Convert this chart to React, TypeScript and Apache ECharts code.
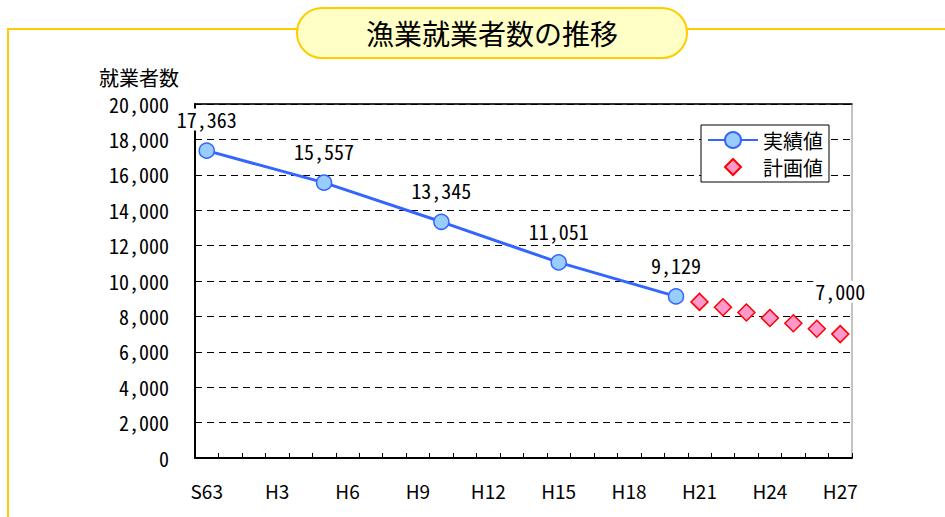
import React, { useEffect, useRef } from "react";
import * as echarts from "echarts";

const categories = [
  "S63", "H1", "H2", "H3", "H4", "H5", "H6", "H7", "H8", "H9", "H10", "H11", "H12", "H13",
  "H14", "H15", "H16", "H17", "H18", "H19", "H20", "H21", "H22", "H23", "H24", "H25", "H26", "H27",
];
const actualYears = ["S63", "H5", "H10", "H15", "H20"];
const actualValues = [17363, 15557, 13345, 11051, 9129];
const planYears = ["H21", "H22", "H23", "H24", "H25", "H26", "H27"];
const planValues = [8820, 8520, 8220, 7910, 7610, 7300, 7000];
const labeledPlanYear = "H27";

const titleText = "漁業就業者数の推移";
const yAxisName = "就業者数";
const actualName = "実績値";
const planName = "計画値";

const NUM_FONT = '"Noto Sans Mono CJK JP", "DejaVu Sans Mono", monospace';
const JP_FONT = '"Noto Sans CJK JP", "Noto Sans", sans-serif';

const fmt = (v: number) => v.toLocaleString("en-US");

export default function App() {
  const ref = useRef<HTMLDivElement>(null);
  useEffect(() => {
    if (!ref.current) return;
    const chart = echarts.init(ref.current, undefined, { renderer: "svg" });
    const labelBase = {
      show: true,
      position: "top",
      color: "#000",
      fontSize: 20,
      fontFamily: NUM_FONT,
      backgroundColor: "#fff",
      padding: [1, 2],
      formatter: (p: any) => fmt(p.value[1]),
    };
    chart.setOption({
      animation: false,
      backgroundColor: "#fff",
      graphic: [
        {
          type: "polyline",
          z: 0,
          shape: { points: [[8, 517], [8, 29], [945, 29]] },
          style: { stroke: "#FFCC00", lineWidth: 2, fill: "none" },
        },
        {
          type: "rect",
          z: 1,
          shape: { x: 297, y: 8, width: 390, height: 50, r: 25 },
          style: { fill: "#FFFFC6", stroke: "#FFCC00", lineWidth: 2 },
        },
        {
          type: "text",
          z: 2,
          x: 492,
          y: 33,
          style: {
            text: titleText,
            fontSize: 28,
            fontFamily: JP_FONT,
            fill: "#000",
            align: "center",
            verticalAlign: "middle",
          },
        },
      ],
      grid: {
        left: 195,
        right: 93,
        top: 104,
        bottom: 59,
        show: true,
        borderColor: "#888",
        borderWidth: 1,
        backgroundColor: "#fff",
      },
      legend: {
        orient: "vertical",
        right: 116,
        top: 125,
        backgroundColor: "#fff",
        borderColor: "#000",
        borderWidth: 1,
        borderRadius: 0,
        padding: [5, 6, 5, 6],
        itemGap: 7,
        itemWidth: 50,
        itemHeight: 20,
        textStyle: { fontSize: 20, fontFamily: JP_FONT, color: "#000" },
        data: [actualName, planName],
      },
      xAxis: [
        {
          type: "category",
          data: categories,
          boundaryGap: true,
          axisLine: { lineStyle: { color: "#000", width: 2 } },
          axisTick: { show: true, inside: true, length: 5, interval: 0, lineStyle: { color: "#000" } },
          axisLabel: { interval: 2, color: "#000", fontSize: 19, fontFamily: JP_FONT, margin: 23 },
          splitLine: { show: false },
        },
        {
          type: "category",
          data: categories,
          position: "top",
          axisLine: { lineStyle: { color: "#000", width: 1.5 } },
          axisTick: { show: false },
          axisLabel: { show: false },
        },
      ],
      yAxis: {
        type: "value",
        min: 0,
        max: 20000,
        interval: 2000,
        name: yAxisName,
        nameLocation: "end",
        nameGap: 17,
        nameTextStyle: {
          fontSize: 20,
          fontFamily: JP_FONT,
          color: "#000",
          align: "right",
          padding: [0, 16, 0, 0],
        },
        axisLine: { show: true, lineStyle: { color: "#000", width: 2 } },
        axisTick: { show: false },
        axisLabel: { color: "#000", fontSize: 20, fontFamily: NUM_FONT, margin: 26, formatter: fmt },
        splitLine: { show: true, lineStyle: { color: "#000", width: 1, type: [7, 5] } },
      },
      series: [
        {
          name: actualName,
          type: "line",
          data: actualYears.map((y, i) => [y, actualValues[i]]),
          symbol: "circle",
          symbolSize: 15,
          showAllSymbol: true,
          lineStyle: { color: "#3366FF", width: 3 },
          itemStyle: { color: "#99CCFF", borderColor: "#3366FF", borderWidth: 1.5 },
          label: { ...labelBase, distance: 12 },
          z: 3,
        },
        {
          name: planName,
          type: "line",
          symbol: "diamond",
          symbolSize: 17,
          showAllSymbol: true,
          lineStyle: { width: 0, opacity: 0 },
          data: planYears.map((y, i) => ({
            value: [y, planValues[i]],
            label: y === labeledPlanYear ? { ...labelBase, distance: 22 } : { show: false },
          })),
          itemStyle: { color: "#FF99CC", borderColor: "#FF0000", borderWidth: 1.5 },
          z: 3,
        },
      ],
    });
    return () => chart.dispose();
  }, []);
  return (
    <div
      ref={ref}
      style={{ position: "fixed", left: 0, top: 0, width: 945, height: 517 }}
    />
  );
}
